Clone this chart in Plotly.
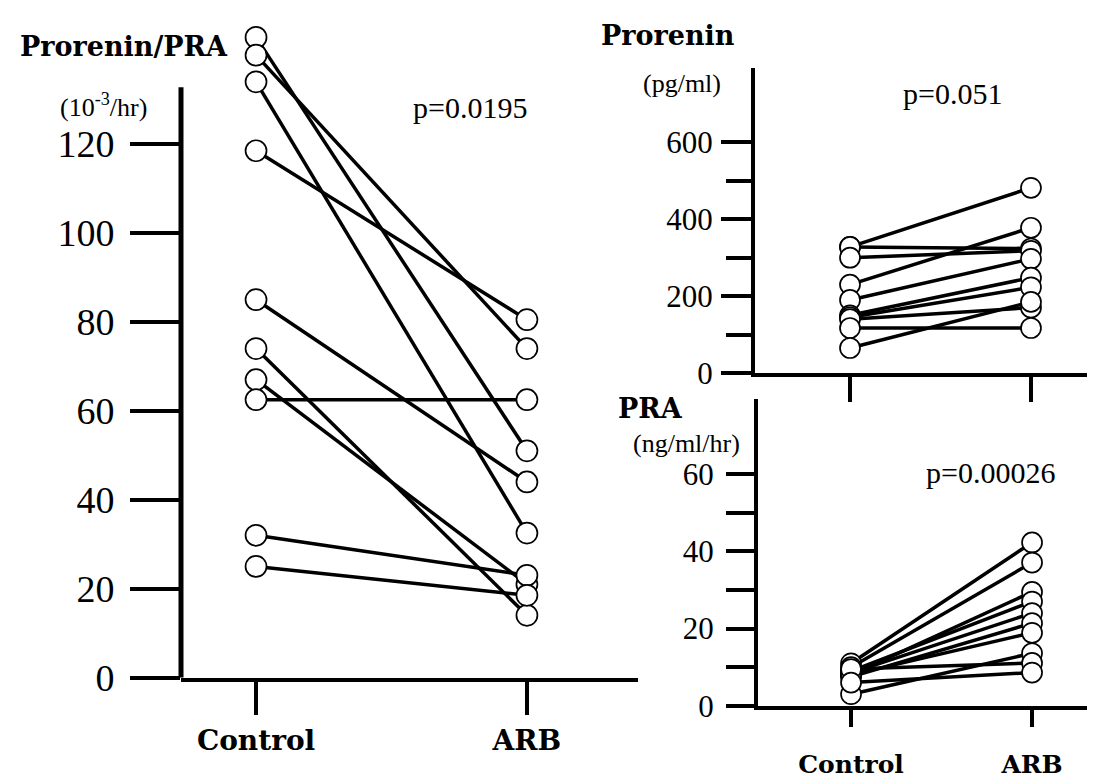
import plotly.graph_objects as go

W, H = 1095, 783

# ---------------- data ----------------
groups = ["Control", "ARB"]

ratio_control = [144, 140, 134, 118.5, 85, 74, 67, 62.5, 32, 25]
ratio_arb     = [51, 74, 32.5, 80.5, 44, 14, 21, 62.5, 23, 18.5]

prorenin_control = [328, 328, 300, 230, 190, 150, 145, 140, 117, 65]
prorenin_arb     = [482, 324, 318, 378, 297, 248, 223, 170, 117, 185]

pra_control = [11, 10, 8, 9, 8.5, 7.5, 8, 3, 9.5, 6]
pra_arb     = [42.3, 37.1, 29.5, 27, 24, 21.4, 18.9, 13.6, 11.1, 8.6]

ratio_ticks = [0, 20, 40, 60, 80, 100, 120]
prorenin_ticks = [0, 200, 400, 600]
pra_ticks = [0, 20, 40, 60]

p_ratio, p_prorenin, p_pra = "p=0.0195", "p=0.051", "p=0.00026"

# ---------------- helpers ----------------
def PX(x):
    return x / W

def PY(y):
    return 1 - y / H

SERIF = "Liberation Serif"
BOLDSERIF = "DejaVu Serif"
BLACK = "black"

fig = go.Figure()

panels = [
    ("x", "y", ratio_control, ratio_arb, 21),
    ("x2", "y2", prorenin_control, prorenin_arb, 20),
    ("x3", "y3", pra_control, pra_arb, 20),
]

for xa, ya, ctrl, arb, msize in panels:
    for c, a in zip(ctrl, arb):
        fig.add_trace(go.Scatter(
            x=groups, y=[c, a], mode="lines", xaxis=xa, yaxis=ya, cliponaxis=False,
            line=dict(color=BLACK, width=3.5), showlegend=False, hoverinfo="skip"))
    fig.add_trace(go.Scatter(
        x=[groups[0]] * len(ctrl) + [groups[1]] * len(arb),
        y=list(ctrl) + list(arb), mode="markers", xaxis=xa, yaxis=ya, cliponaxis=False,
        marker=dict(size=msize, color="white", line=dict(color=BLACK, width=1.7)),
        showlegend=False, hoverinfo="skip"))

common_x = dict(type="category", categoryorder="array", categoryarray=groups,
                showline=True, linecolor=BLACK, ticks="outside", tickcolor=BLACK,
                showgrid=False, zeroline=False, fixedrange=True)
common_y = dict(showline=True, linecolor=BLACK, ticks="outside", tickcolor=BLACK,
                showgrid=False, zeroline=False, fixedrange=True,
                tickfont=dict(family=SERIF, color=BLACK))

RATIO_TOP = 132.8  # where the drawn y axis line of the left panel stops

fig.update_layout(
    width=W, height=H, margin=dict(l=0, r=0, t=0, b=0),
    paper_bgcolor="white", plot_bgcolor="white", showlegend=False,
    xaxis=dict(common_x, domain=[PX(173), PX(630)], range=[-0.277, 1.41],
               anchor="y", linewidth=4, ticklen=33, tickwidth=4,
               tickfont=dict(family=BOLDSERIF, size=28, color=BLACK, weight="bold"),
               ticklabelstandoff=2),
    yaxis=dict(common_y, domain=[PY(688), PY(6)], range=[0, (688 - 6) / 4.568],
               anchor="x", showline=False, ticklen=50, tickwidth=4,
               tickvals=ratio_ticks, tickfont=dict(family=SERIF, size=38, color=BLACK),
               ticklabelstandoff=8),
    xaxis2=dict(common_x, domain=[PX(747), PX(1095)], range=[-0.525, 1.398],
                anchor="y2", linewidth=4, ticklen=25, tickwidth=4,
                showticklabels=False),
    yaxis2=dict(common_y, domain=[PY(375), PY(62)], range=[0, 793],
                anchor="x2", linewidth=4, ticklen=30, tickwidth=4,
                tickvals=prorenin_ticks, tickfont=dict(family=SERIF, size=31, color=BLACK),
                ticklabelstandoff=2,
                minor=dict(tickvals=[100, 300, 500], ticks="outside", ticklen=25,
                           tickwidth=4, tickcolor=BLACK, showgrid=False)),
    xaxis3=dict(common_x, domain=[PX(750), PX(1095)], range=[-0.514, 1.392],
                anchor="y3", linewidth=4, ticklen=17, tickwidth=4,
                tickfont=dict(family=BOLDSERIF, size=25, color=BLACK, weight="bold"),
                ticklabelstandoff=16),
    yaxis3=dict(common_y, domain=[PY(717), PY(402)], range=[0, 79.4],
                anchor="x3", linewidth=4, ticklen=28, tickwidth=4,
                tickvals=pra_ticks, tickfont=dict(family=SERIF, size=31, color=BLACK),
                ticklabelstandoff=6,
                minor=dict(tickvals=[10, 30, 50], ticks="outside", ticklen=28,
                           tickwidth=4, tickcolor=BLACK, showgrid=False)),
)

# left panel y axis line (stops at the top of the scale, markers may rise above it)
fig.add_shape(type="line", xref="x domain", yref="y", x0=0, x1=0, y0=-1.2, y1=RATIO_TOP,
              line=dict(color=BLACK, width=5))

def label(text, x, y, size, bold=False):
    fig.add_annotation(
        text=text, xref="paper", yref="paper", x=PX(x), y=PY(y),
        xanchor="left", yanchor="middle", showarrow=False,
        font=dict(family=BOLDSERIF if bold else SERIF, size=size, color=BLACK,
                  weight="bold" if bold else "normal"))

label("Prorenin/PRA", 10, 40, 27, bold=True)
label("(10<sup>-3</sup>/hr)", 50, 100, 26)
label(p_ratio, 403, 102, 30)
label("Prorenin", 591, 28, 27, bold=True)
label("(pg/ml)", 633, 78, 26)
label(p_prorenin, 893, 88, 30)
label("PRA", 608, 412, 27, bold=True)
label("(ng/ml/hr)", 623, 448, 26)
label(p_pra, 916, 477, 30)

fig.write_html("out.html")
